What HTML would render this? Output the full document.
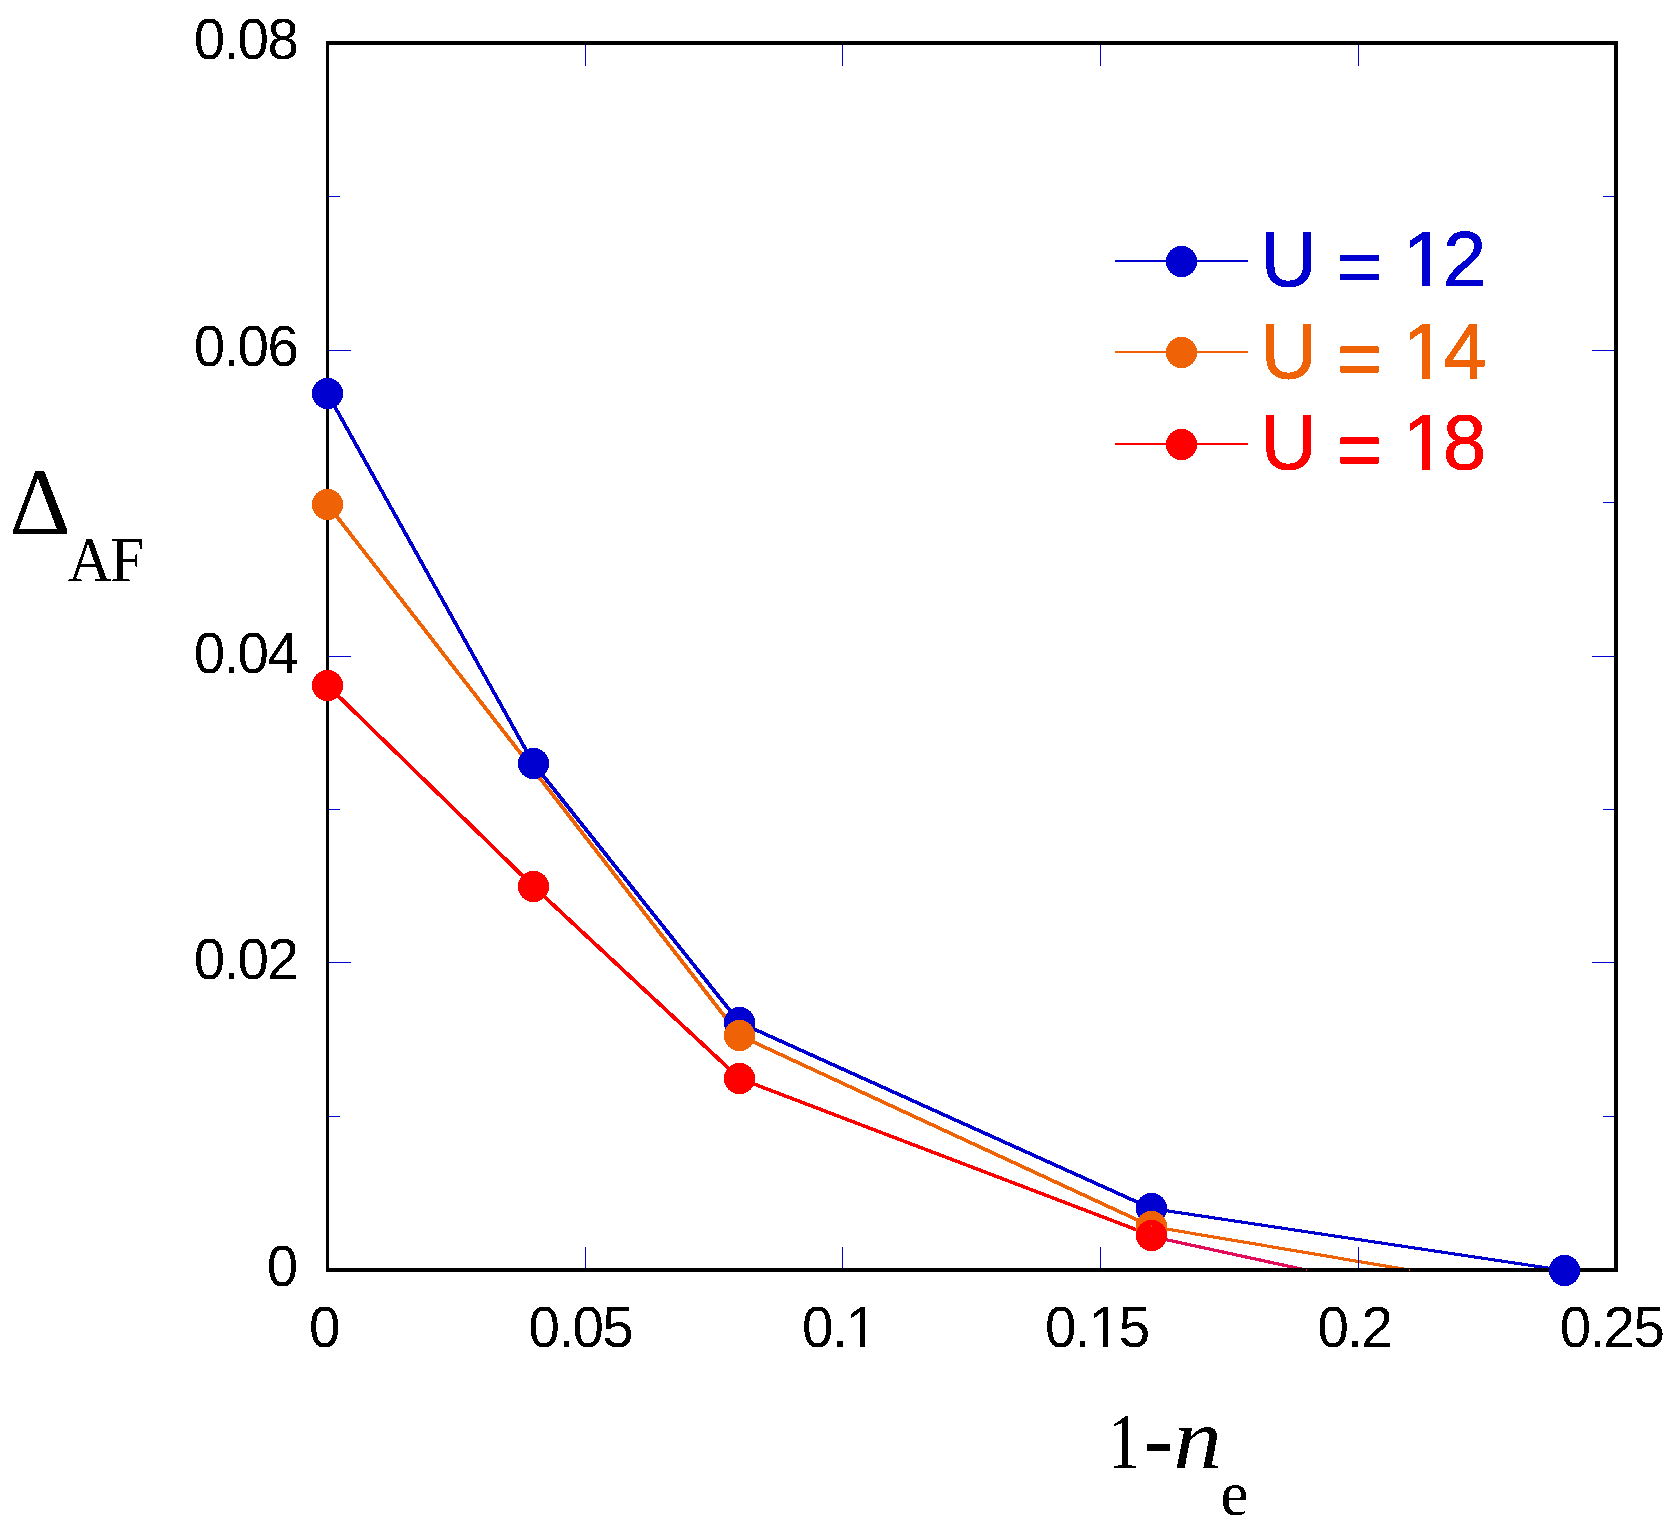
<!DOCTYPE html>
<html lang="en"><head><meta charset="utf-8"><title>Delta AF vs 1-n_e</title>
<style>html,body{margin:0;padding:0;background:#fff;}body{width:1675px;height:1528px;overflow:hidden;}svg{display:block;}.sans{font-family:"Liberation Sans",sans-serif;}.serif{font-family:"Liberation Serif",serif;}</style></head><body>
<svg width="1675" height="1528" viewBox="0 0 1675 1528">
<defs><filter id="bin" filterUnits="userSpaceOnUse" x="0" y="0" width="1675" height="1528" color-interpolation-filters="sRGB"><feComponentTransfer><feFuncA type="discrete" tableValues="0 1"/></feComponentTransfer></filter></defs>
<rect x="0" y="0" width="1675" height="1528" fill="#ffffff"/>
<g id="lines" shape-rendering="crispEdges">
<polygon fill="#e30c5a" points="1150.15,1235.15 1152.85,1235.15 1307.35,1268.65 1307.35,1271.35 1304.65,1271.35 1150.15,1237.85"/>
<polygon fill="#ff0000" points="326.15,684.15 328.85,684.15 534.85,885.15 534.85,887.85 532.15,887.85 326.15,686.85"/>
<polygon fill="#ff0000" points="532.15,885.15 534.85,885.15 740.85,1077.15 740.85,1079.85 738.15,1079.85 532.15,887.85"/>
<polygon fill="#ff0000" points="738.15,1077.15 740.85,1077.15 1152.85,1234.15 1152.85,1236.85 1150.15,1236.85 738.15,1079.85"/>
<polygon fill="#ef6206" points="326.15,503.15 328.85,503.15 740.85,1034.15 740.85,1036.85 738.15,1036.85 326.15,505.85"/>
<polygon fill="#ef6206" points="738.15,1034.15 740.85,1034.15 1152.85,1225.15 1152.85,1227.85 1150.15,1227.85 738.15,1036.85"/>
<polygon fill="#ef6206" points="1150.15,1225.15 1152.85,1225.15 1410.35,1268.65 1410.35,1271.35 1407.65,1271.35 1150.15,1227.85"/>
<polygon fill="#0000d0" points="326.15,392.15 328.85,392.15 534.85,762.15 534.85,764.85 532.15,764.85 326.15,394.85"/>
<polygon fill="#0000d0" points="532.15,762.15 534.85,762.15 740.85,1021.15 740.85,1023.85 738.15,1023.85 532.15,764.85"/>
<polygon fill="#0000d0" points="738.15,1021.15 740.85,1021.15 1152.85,1207.15 1152.85,1209.85 1150.15,1209.85 738.15,1023.85"/>
<polygon fill="#0000d0" points="1150.15,1207.15 1152.85,1207.15 1565.85,1269.15 1565.85,1271.85 1563.15,1271.85 1150.15,1209.85"/>
</g>
<g id="ticks" stroke="#0000d0" stroke-width="1.3" shape-rendering="crispEdges">
<line x1="329" y1="1116.5" x2="340" y2="1116.5"/>
<line x1="1603" y1="1116.5" x2="1614" y2="1116.5"/>
<line x1="329" y1="962.5" x2="351" y2="962.5"/>
<line x1="1592" y1="962.5" x2="1614" y2="962.5"/>
<line x1="329" y1="809.5" x2="340" y2="809.5"/>
<line x1="1603" y1="809.5" x2="1614" y2="809.5"/>
<line x1="329" y1="656.5" x2="351" y2="656.5"/>
<line x1="1592" y1="656.5" x2="1614" y2="656.5"/>
<line x1="329" y1="502.5" x2="340" y2="502.5"/>
<line x1="1603" y1="502.5" x2="1614" y2="502.5"/>
<line x1="329" y1="350.5" x2="351" y2="350.5"/>
<line x1="1592" y1="350.5" x2="1614" y2="350.5"/>
<line x1="329" y1="196.5" x2="340" y2="196.5"/>
<line x1="1603" y1="196.5" x2="1614" y2="196.5"/>
<line x1="585.5" y1="1247" x2="585.5" y2="1268"/>
<line x1="585.5" y1="45" x2="585.5" y2="66"/>
<line x1="842.5" y1="1247" x2="842.5" y2="1268"/>
<line x1="842.5" y1="45" x2="842.5" y2="66"/>
<line x1="1100.5" y1="1247" x2="1100.5" y2="1268"/>
<line x1="1100.5" y1="45" x2="1100.5" y2="66"/>
<line x1="1358.5" y1="1247" x2="1358.5" y2="1268"/>
<line x1="1358.5" y1="45" x2="1358.5" y2="66"/>
</g>
<g id="frame" fill="#000" shape-rendering="crispEdges">
<rect x="326" y="41" width="1292" height="4"/>
<rect x="326" y="1268" width="1292" height="4"/>
<rect x="326" y="41" width="3" height="1231"/>
<rect x="1614" y="41" width="4" height="1231"/>
</g>
<g id="markers" shape-rendering="crispEdges">
<circle cx="327.5" cy="393.5" r="15.6" fill="#0000d0"/>
<circle cx="533.5" cy="763.5" r="15.6" fill="#0000d0"/>
<circle cx="739.5" cy="1022.5" r="15.6" fill="#0000d0"/>
<circle cx="1151.5" cy="1208.5" r="15.6" fill="#0000d0"/>
<circle cx="1564.5" cy="1270.5" r="15.6" fill="#0000d0"/>
<circle cx="327.5" cy="504.5" r="15.6" fill="#ef6206"/>
<circle cx="739.5" cy="1035.5" r="15.6" fill="#ef6206"/>
<circle cx="1151.5" cy="1226.5" r="15.6" fill="#ef6206"/>
<circle cx="327.5" cy="685.5" r="15.6" fill="#ff0000"/>
<circle cx="533.5" cy="886.5" r="15.6" fill="#ff0000"/>
<circle cx="739.5" cy="1078.5" r="15.6" fill="#ff0000"/>
<circle cx="1151.5" cy="1235.5" r="15.6" fill="#ff0000"/>
</g>
<g id="specks" shape-rendering="crispEdges">
<rect x="1151" y="1225" width="1" height="2" fill="#ef6206"/>
<rect x="1151" y="1236" width="1" height="2" fill="#e30c5a"/>
<rect x="1306" y="1269" width="1" height="2" fill="#ee1166"/>
<rect x="1409" y="1269" width="1" height="2" fill="#ff6600"/>
</g>
<g id="legend" filter="url(#bin)">
<rect x="1115" y="260" width="133" height="2" fill="#0000d0" shape-rendering="crispEdges"/>
<circle cx="1181.5" cy="261.5" r="15.6" fill="#0000d0" shape-rendering="crispEdges"/>
<text class="sans" x="1260.7 1316 1337 1382 1402.8 1442.9" y="286 286 292.8 286" font-size="77.5" fill="#0000d0" stroke="#0000d0" stroke-width="0.9" xml:space="preserve">U = 12</text>
<rect x="1407" y="279" width="15" height="9" fill="#fff"/>
<rect x="1430" y="279" width="14" height="9" fill="#fff"/>
<rect x="1115" y="351" width="133" height="2" fill="#ef6206" shape-rendering="crispEdges"/>
<circle cx="1181.5" cy="352.5" r="15.6" fill="#ef6206" shape-rendering="crispEdges"/>
<text class="sans" x="1260.7 1316 1337 1382 1402.8 1443.6" y="378 378 384.8 378" font-size="77.5" fill="#ef6206" stroke="#ef6206" stroke-width="0.9" xml:space="preserve">U = 14</text>
<rect x="1407" y="371" width="15" height="9" fill="#fff"/>
<rect x="1430" y="371" width="14" height="9" fill="#fff"/>
<rect x="1115" y="443" width="133" height="2" fill="#ff0000" shape-rendering="crispEdges"/>
<circle cx="1181.5" cy="444.5" r="15.6" fill="#ff0000" shape-rendering="crispEdges"/>
<text class="sans" x="1260.7 1316 1337 1382 1402.8 1442.9" y="469 469 475.8 469" font-size="77.5" fill="#ff0000" stroke="#ff0000" stroke-width="0.9" xml:space="preserve">U = 18</text>
<rect x="1407" y="462" width="15" height="9" fill="#fff"/>
<rect x="1430" y="462" width="14" height="9" fill="#fff"/>
</g>
<g id="ylabels" filter="url(#bin)" class="sans" font-size="56.5" letter-spacing="-1.6" fill="#000">
<text x="266.65" y="1286">0</text>
<text x="193.65" y="979.25">0.02</text>
<text x="193.65" y="672.5">0.04</text>
<text x="193.65" y="365.75">0.06</text>
<text x="193.65" y="59">0.08</text>
</g>
<g id="xlabels" filter="url(#bin)" class="sans" font-size="56.5" letter-spacing="-1.6" fill="#000">
<text x="308.9" y="1346.7">0</text>
<text x="528.6" y="1346.7">0.05</text>
<text x="802.1" y="1346.7">0.1</text>
<rect x="849" y="1342" width="11" height="7" fill="#fff" stroke="none"/>
<rect x="865" y="1342" width="12" height="7" fill="#fff" stroke="none"/>
<text x="1044.9" y="1346.7">0.15</text>
<rect x="1091" y="1342" width="12" height="7" fill="#fff" stroke="none"/>
<rect x="1108" y="1342" width="11" height="7" fill="#fff" stroke="none"/>
<text x="1317.5" y="1346.7">0.2</text>
<text x="1559.7" y="1346.7">0.25</text>
</g>
<text id="ytitle" filter="url(#bin)" class="serif" fill="#000"><tspan x="9.4" y="533.9" font-size="95.5">Δ</tspan><tspan x="67.7" y="580.8" dx="0 -1.8" font-size="63" textLength="76.5" lengthAdjust="spacingAndGlyphs">AF</tspan></text>
<text id="xtitle" filter="url(#bin)" class="serif" fill="#000"><tspan x="1108.3" y="1467" font-size="79" textLength="31.6" lengthAdjust="spacingAndGlyphs">1</tspan><tspan x="1143.7" y="1468.7" font-size="90">-</tspan><tspan x="1173.3" y="1468.3" font-size="86" font-style="italic" textLength="48.8" lengthAdjust="spacingAndGlyphs">n</tspan><tspan x="1220.5" y="1514.6" font-size="63.2">e</tspan></text>
</svg></body></html>
